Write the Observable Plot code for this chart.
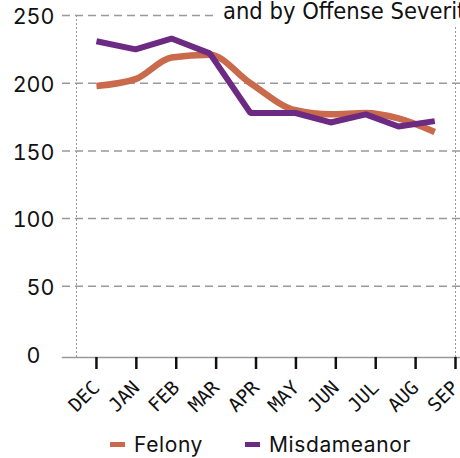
<!DOCTYPE html>
<html>
<head>
<meta charset="utf-8">
<script src="https://cdn.jsdelivr.net/npm/d3@7"></script>
<script src="https://cdn.jsdelivr.net/npm/@observablehq/plot@0.6"></script>
<style>
  html, body { margin: 0; padding: 0; background: #fff; width: 460px; height: 458px; overflow: hidden; }
  #wrap { position: relative; width: 460px; height: 458px; overflow: hidden; }
  #title { position: absolute; left: 217px; top: -4px; padding-left: 6px; padding-right: 40px; background: #fff;
    font-family: "DejaVu Sans Condensed", "Liberation Sans Narrow", sans-serif; font-stretch: condensed;
    font-size: 23.5px; line-height: 31px; white-space: nowrap; color: #111; }
  #legend { display: flex; align-items: center; height: 40px; padding-top: 6px; padding-left: 110px; box-sizing: border-box; height: 46px;
    font-family: Inter, "Noto Sans", sans-serif; font-size: 21px; letter-spacing: 0.6px; color: #111; }
  .item { display: flex; align-items: center; }
  .sw { width: 15px; height: 5px; margin-right: 9px; }
</style>
</head>
<body>
<div id="wrap">
  <div id="chart"></div>
  <div id="legend"></div>
  <div id="title">and by Offense Severity</div>
</div>
<script>
// Tick labels (one per month tick)
const months = ["DEC","JAN","FEB","MAR","APR","MAY","JUN","JUL","AUG","SEP"];
const obsPos = [0, 0.98, 1.88, 2.84, 3.86, 4.99, 5.87, 6.75, 7.57, 8.48];
// Series values
const felony = [198, 203, 219, 221, 200, 180, 177, 178, 174, 164];
const misdemeanor = [231, 225, 233, 222, 178, 178, 171, 177, 168, 172];
// Axis ticks
const yTicks = [0, 50, 100, 150, 200, 250];
const xDomain = [-0.5, 9];
const seriesNames = ["Felony", "Misdameanor"];
const seriesColors = ["#c86a4b", "#6c2a83"];

const monthTicks = months.map((m, i) => i);
const rows = (vals, s) => vals.map((v, i) => ({x: obsPos[i], v, s}));
const felRows = rows(felony, seriesNames[0]);
const misRows = rows(misdemeanor, seriesNames[1]);

const chart = Plot.plot({
  width: 460,
  height: 418,
  marginTop: 15,
  marginRight: 0,
  marginBottom: 61,
  marginLeft: 62,
  style: {background: "white", overflow: "visible"},
  x: {type: "linear", domain: xDomain, insetLeft: 14, insetRight: 5, label: null},
  y: {domain: [0, 250], insetBottom: 3.5, label: null},
  marks: [
    Plot.gridY(yTicks.filter(d => d > 0), {stroke: "#999", strokeOpacity: 1, strokeDasharray: "8,5", strokeWidth: 1.5}),
    Plot.ruleX(xDomain, {stroke: "#999", strokeDasharray: "2,2", strokeWidth: 1}),
    Plot.frame({anchor: "bottom", stroke: "#999", strokeWidth: 1.5}),
    Plot.axisY({ticks: yTicks, tickSize: 0, tickPadding: 8, fontSize: 21.5, fontFamily: "Inter, sans-serif", label: null,
      tickFormat: d => d === 0 ? "0\u2007" : String(d), dy: 2, fill: "#111"}),
    Plot.axisX({ticks: monthTicks, tickFormat: i => months[i], tickSize: 12, tickPadding: 15, tickRotate: -45, label: null,
      fontFamily: "DejaVu Sans Mono, monospace", fontSize: 19, stroke: "#111", strokeWidth: 2.5, fill: "#111", strokeOpacity: 1}),
    Plot.line(felRows, {x: "x", y: "v", stroke: seriesColors[0], strokeWidth: 6.5, curve: "monotone-x", strokeLinecap: "butt"}),
    Plot.line(misRows, {x: "x", y: "v", stroke: seriesColors[1], strokeWidth: 6, curve: "linear", strokeLinecap: "butt", strokeLinejoin: "miter"})
  ]
});
document.getElementById("chart").appendChild(chart);

const legend = document.getElementById("legend");
seriesNames.forEach((name, i) => {
  const item = document.createElement("div");
  item.className = "item";
  if (i > 0) item.style.marginLeft = "42px";
  const sw = document.createElement("span");
  sw.className = "sw";
  sw.style.background = seriesColors[i];
  const t = document.createElement("span");
  t.textContent = name;
  item.appendChild(sw);
  item.appendChild(t);
  legend.appendChild(item);
});
</script>
</body>
</html>
